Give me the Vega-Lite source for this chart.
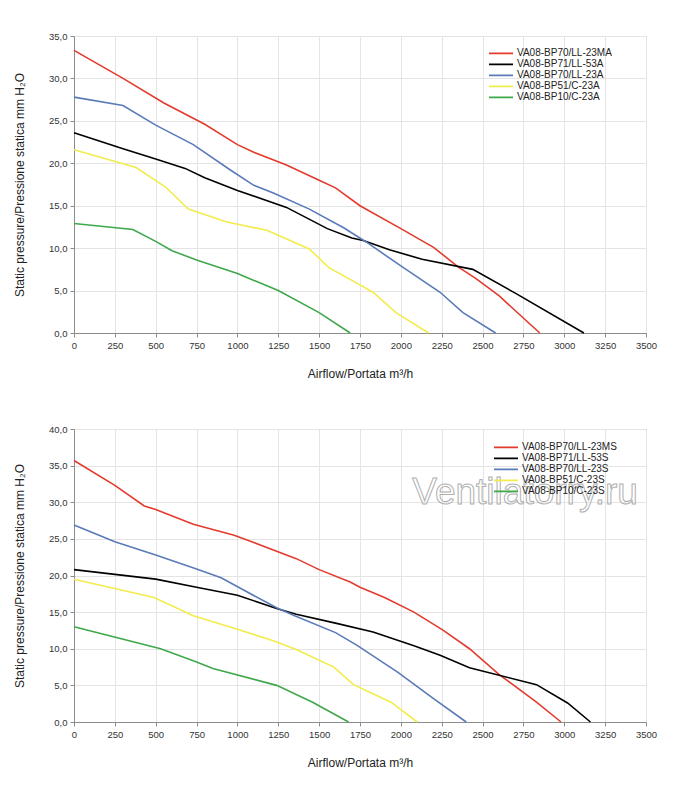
{
  "$schema": "https://vega.github.io/schema/vega-lite/v6.json",
  "padding": {"top": 30, "left": 13, "right": 5, "bottom": 5},
  "background": "white",
  "datasets": {
    "seriesA": [
      {"model": "VA08-BP70/LL-23MA", "flow": 0, "pressure": 33.3},
      {"model": "VA08-BP70/LL-23MA", "flow": 300, "pressure": 30.0},
      {"model": "VA08-BP70/LL-23MA", "flow": 550, "pressure": 27.1},
      {"model": "VA08-BP70/LL-23MA", "flow": 800, "pressure": 24.6},
      {"model": "VA08-BP70/LL-23MA", "flow": 1000, "pressure": 22.2},
      {"model": "VA08-BP70/LL-23MA", "flow": 1100, "pressure": 21.3},
      {"model": "VA08-BP70/LL-23MA", "flow": 1300, "pressure": 19.8},
      {"model": "VA08-BP70/LL-23MA", "flow": 1500, "pressure": 18.0},
      {"model": "VA08-BP70/LL-23MA", "flow": 1600, "pressure": 17.1},
      {"model": "VA08-BP70/LL-23MA", "flow": 1750, "pressure": 15.0},
      {"model": "VA08-BP70/LL-23MA", "flow": 2000, "pressure": 12.3},
      {"model": "VA08-BP70/LL-23MA", "flow": 2200, "pressure": 10.1},
      {"model": "VA08-BP70/LL-23MA", "flow": 2350, "pressure": 7.8},
      {"model": "VA08-BP70/LL-23MA", "flow": 2460, "pressure": 6.4},
      {"model": "VA08-BP70/LL-23MA", "flow": 2600, "pressure": 4.4},
      {"model": "VA08-BP70/LL-23MA", "flow": 2850, "pressure": 0},
      {"model": "VA08-BP71/LL-53A", "flow": 0, "pressure": 23.6},
      {"model": "VA08-BP71/LL-53A", "flow": 300, "pressure": 21.7},
      {"model": "VA08-BP71/LL-53A", "flow": 500, "pressure": 20.5},
      {"model": "VA08-BP71/LL-53A", "flow": 680, "pressure": 19.4},
      {"model": "VA08-BP71/LL-53A", "flow": 800, "pressure": 18.3},
      {"model": "VA08-BP71/LL-53A", "flow": 1000, "pressure": 16.8},
      {"model": "VA08-BP71/LL-53A", "flow": 1300, "pressure": 14.8},
      {"model": "VA08-BP71/LL-53A", "flow": 1550, "pressure": 12.3},
      {"model": "VA08-BP71/LL-53A", "flow": 1700, "pressure": 11.2},
      {"model": "VA08-BP71/LL-53A", "flow": 1770, "pressure": 10.9},
      {"model": "VA08-BP71/LL-53A", "flow": 1930, "pressure": 9.8},
      {"model": "VA08-BP71/LL-53A", "flow": 2130, "pressure": 8.7},
      {"model": "VA08-BP71/LL-53A", "flow": 2440, "pressure": 7.5},
      {"model": "VA08-BP71/LL-53A", "flow": 2700, "pressure": 4.7},
      {"model": "VA08-BP71/LL-53A", "flow": 3120, "pressure": 0},
      {"model": "VA08-BP70/LL-23A", "flow": 0, "pressure": 27.8},
      {"model": "VA08-BP70/LL-23A", "flow": 300, "pressure": 26.8},
      {"model": "VA08-BP70/LL-23A", "flow": 500, "pressure": 24.5},
      {"model": "VA08-BP70/LL-23A", "flow": 730, "pressure": 22.2},
      {"model": "VA08-BP70/LL-23A", "flow": 950, "pressure": 19.3},
      {"model": "VA08-BP70/LL-23A", "flow": 1100, "pressure": 17.4},
      {"model": "VA08-BP70/LL-23A", "flow": 1220, "pressure": 16.5},
      {"model": "VA08-BP70/LL-23A", "flow": 1440, "pressure": 14.6},
      {"model": "VA08-BP70/LL-23A", "flow": 1650, "pressure": 12.4},
      {"model": "VA08-BP70/LL-23A", "flow": 1790, "pressure": 10.7},
      {"model": "VA08-BP70/LL-23A", "flow": 2000, "pressure": 7.9},
      {"model": "VA08-BP70/LL-23A", "flow": 2240, "pressure": 4.8},
      {"model": "VA08-BP70/LL-23A", "flow": 2380, "pressure": 2.4},
      {"model": "VA08-BP70/LL-23A", "flow": 2580, "pressure": 0},
      {"model": "VA08-BP51/C-23A", "flow": 0, "pressure": 21.6},
      {"model": "VA08-BP51/C-23A", "flow": 380, "pressure": 19.5},
      {"model": "VA08-BP51/C-23A", "flow": 560, "pressure": 17.2},
      {"model": "VA08-BP51/C-23A", "flow": 700, "pressure": 14.6},
      {"model": "VA08-BP51/C-23A", "flow": 930, "pressure": 13.1},
      {"model": "VA08-BP51/C-23A", "flow": 1180, "pressure": 12.1},
      {"model": "VA08-BP51/C-23A", "flow": 1440, "pressure": 9.9},
      {"model": "VA08-BP51/C-23A", "flow": 1560, "pressure": 7.7},
      {"model": "VA08-BP51/C-23A", "flow": 1700, "pressure": 6.2},
      {"model": "VA08-BP51/C-23A", "flow": 1830, "pressure": 4.8},
      {"model": "VA08-BP51/C-23A", "flow": 1970, "pressure": 2.4},
      {"model": "VA08-BP51/C-23A", "flow": 2170, "pressure": 0},
      {"model": "VA08-BP10/C-23A", "flow": 0, "pressure": 12.9},
      {"model": "VA08-BP10/C-23A", "flow": 360, "pressure": 12.2},
      {"model": "VA08-BP10/C-23A", "flow": 500, "pressure": 10.8},
      {"model": "VA08-BP10/C-23A", "flow": 600, "pressure": 9.7},
      {"model": "VA08-BP10/C-23A", "flow": 750, "pressure": 8.6},
      {"model": "VA08-BP10/C-23A", "flow": 1000, "pressure": 7.0},
      {"model": "VA08-BP10/C-23A", "flow": 1250, "pressure": 5.0},
      {"model": "VA08-BP10/C-23A", "flow": 1500, "pressure": 2.4},
      {"model": "VA08-BP10/C-23A", "flow": 1690, "pressure": 0}
    ],
    "seriesS": [
      {"model": "VA08-BP70/LL-23MS", "flow": 0, "pressure": 35.7},
      {"model": "VA08-BP70/LL-23MS", "flow": 250, "pressure": 32.3},
      {"model": "VA08-BP70/LL-23MS", "flow": 430, "pressure": 29.5},
      {"model": "VA08-BP70/LL-23MS", "flow": 500, "pressure": 29.0},
      {"model": "VA08-BP70/LL-23MS", "flow": 730, "pressure": 27.0},
      {"model": "VA08-BP70/LL-23MS", "flow": 980, "pressure": 25.5},
      {"model": "VA08-BP70/LL-23MS", "flow": 1100, "pressure": 24.5},
      {"model": "VA08-BP70/LL-23MS", "flow": 1360, "pressure": 22.3},
      {"model": "VA08-BP70/LL-23MS", "flow": 1500, "pressure": 20.8},
      {"model": "VA08-BP70/LL-23MS", "flow": 1690, "pressure": 19.1},
      {"model": "VA08-BP70/LL-23MS", "flow": 1750, "pressure": 18.4},
      {"model": "VA08-BP70/LL-23MS", "flow": 1900, "pressure": 17.0},
      {"model": "VA08-BP70/LL-23MS", "flow": 2080, "pressure": 15.0},
      {"model": "VA08-BP70/LL-23MS", "flow": 2260, "pressure": 12.5},
      {"model": "VA08-BP70/LL-23MS", "flow": 2420, "pressure": 10.0},
      {"model": "VA08-BP70/LL-23MS", "flow": 2600, "pressure": 6.5},
      {"model": "VA08-BP70/LL-23MS", "flow": 2830, "pressure": 2.7},
      {"model": "VA08-BP70/LL-23MS", "flow": 2980, "pressure": 0},
      {"model": "VA08-BP71/LL-53S", "flow": 0, "pressure": 20.8},
      {"model": "VA08-BP71/LL-53S", "flow": 500, "pressure": 19.5},
      {"model": "VA08-BP71/LL-53S", "flow": 750, "pressure": 18.4},
      {"model": "VA08-BP71/LL-53S", "flow": 1000, "pressure": 17.3},
      {"model": "VA08-BP71/LL-53S", "flow": 1240, "pressure": 15.5},
      {"model": "VA08-BP71/LL-53S", "flow": 1360, "pressure": 14.7},
      {"model": "VA08-BP71/LL-53S", "flow": 1600, "pressure": 13.5},
      {"model": "VA08-BP71/LL-53S", "flow": 1830, "pressure": 12.3},
      {"model": "VA08-BP71/LL-53S", "flow": 2080, "pressure": 10.4},
      {"model": "VA08-BP71/LL-53S", "flow": 2240, "pressure": 9.1},
      {"model": "VA08-BP71/LL-53S", "flow": 2420, "pressure": 7.4},
      {"model": "VA08-BP71/LL-53S", "flow": 2830, "pressure": 5.1},
      {"model": "VA08-BP71/LL-53S", "flow": 3020, "pressure": 2.6},
      {"model": "VA08-BP71/LL-53S", "flow": 3160, "pressure": 0},
      {"model": "VA08-BP70/LL-23S", "flow": 0, "pressure": 26.9},
      {"model": "VA08-BP70/LL-23S", "flow": 250, "pressure": 24.6},
      {"model": "VA08-BP70/LL-23S", "flow": 500, "pressure": 22.8},
      {"model": "VA08-BP70/LL-23S", "flow": 750, "pressure": 20.9},
      {"model": "VA08-BP70/LL-23S", "flow": 900, "pressure": 19.7},
      {"model": "VA08-BP70/LL-23S", "flow": 1080, "pressure": 17.5},
      {"model": "VA08-BP70/LL-23S", "flow": 1240, "pressure": 15.6},
      {"model": "VA08-BP70/LL-23S", "flow": 1350, "pressure": 14.5},
      {"model": "VA08-BP70/LL-23S", "flow": 1600, "pressure": 12.2},
      {"model": "VA08-BP70/LL-23S", "flow": 1730, "pressure": 10.5},
      {"model": "VA08-BP70/LL-23S", "flow": 1980, "pressure": 6.8},
      {"model": "VA08-BP70/LL-23S", "flow": 2200, "pressure": 3.2},
      {"model": "VA08-BP70/LL-23S", "flow": 2400, "pressure": 0},
      {"model": "VA08-BP51/C-23S", "flow": 0, "pressure": 19.5},
      {"model": "VA08-BP51/C-23S", "flow": 490, "pressure": 17.0},
      {"model": "VA08-BP51/C-23S", "flow": 730, "pressure": 14.5},
      {"model": "VA08-BP51/C-23S", "flow": 980, "pressure": 12.8},
      {"model": "VA08-BP51/C-23S", "flow": 1220, "pressure": 11.1},
      {"model": "VA08-BP51/C-23S", "flow": 1360, "pressure": 9.9},
      {"model": "VA08-BP51/C-23S", "flow": 1590, "pressure": 7.5},
      {"model": "VA08-BP51/C-23S", "flow": 1710, "pressure": 5.1},
      {"model": "VA08-BP51/C-23S", "flow": 1940, "pressure": 2.7},
      {"model": "VA08-BP51/C-23S", "flow": 2100, "pressure": 0},
      {"model": "VA08-BP10/C-23S", "flow": 0, "pressure": 13.0},
      {"model": "VA08-BP10/C-23S", "flow": 530, "pressure": 10.0},
      {"model": "VA08-BP10/C-23S", "flow": 750, "pressure": 8.2},
      {"model": "VA08-BP10/C-23S", "flow": 850, "pressure": 7.3},
      {"model": "VA08-BP10/C-23S", "flow": 1240, "pressure": 5.0},
      {"model": "VA08-BP10/C-23S", "flow": 1460, "pressure": 2.7},
      {"model": "VA08-BP10/C-23S", "flow": 1680, "pressure": 0}
    ]
  },
  "vconcat": [
    {
      "width": 572,
      "height": 297,
      "data": {"name": "seriesA"},
      "mark": {"type": "line", "strokeWidth": 1.6},
      "encoding": {
        "x": {
          "field": "flow",
          "type": "quantitative",
          "title": "Airflow/Portata m³/h",
          "scale": {"domain": [0, 3500], "nice": false},
          "axis": {"values": [0, 250, 500, 750, 1000, 1250, 1500, 1750, 2000, 2250, 2500, 2750, 3000, 3250, 3500]}
        },
        "y": {
          "field": "pressure",
          "type": "quantitative",
          "title": "Static pressure/Pressione statica mm H₂O",
          "scale": {"domain": [0, 35], "nice": false},
          "axis": {"values": [0, 5, 10, 15, 20, 25, 30, 35]}
        },
        "color": {
          "field": "model",
          "type": "nominal",
          "scale": {
            "domain": ["VA08-BP70/LL-23MA", "VA08-BP71/LL-53A", "VA08-BP70/LL-23A", "VA08-BP51/C-23A", "VA08-BP10/C-23A"],
            "range": ["#e23b2e", "#000000", "#5a7ab8", "#f2ec4c", "#3fa84a"]
          },
          "legend": {"orient": "none", "legendX": 414, "legendY": 12}
        }
      }
    },
    {
      "width": 572,
      "height": 293,
      "layer": [
        {
          "data": {"name": "seriesS"},
          "mark": {"type": "line", "strokeWidth": 1.6},
          "encoding": {
            "x": {
              "field": "flow",
              "type": "quantitative",
              "title": "Airflow/Portata m³/h",
              "scale": {"domain": [0, 3500], "nice": false},
              "axis": {"values": [0, 250, 500, 750, 1000, 1250, 1500, 1750, 2000, 2250, 2500, 2750, 3000, 3250, 3500]}
            },
            "y": {
              "field": "pressure",
              "type": "quantitative",
              "title": "Static pressure/Pressione statica mm H₂O",
              "scale": {"domain": [0, 40], "nice": false},
              "axis": {"values": [0, 5, 10, 15, 20, 25, 30, 35, 40]}
            },
            "color": {
              "field": "model",
              "type": "nominal",
              "scale": {
                "domain": ["VA08-BP70/LL-23MS", "VA08-BP71/LL-53S", "VA08-BP70/LL-23S", "VA08-BP51/C-23S", "VA08-BP10/C-23S"],
                "range": ["#e23b2e", "#000000", "#5a7ab8", "#f2ec4c", "#3fa84a"]
              },
              "legend": {"orient": "none", "legendX": 419, "legendY": 13}
            }
          }
        },
        {
          "data": {"values": [{"site": "Ventilatorry.ru"}]},
          "mark": {
            "type": "text",
            "font": "Liberation Sans",
            "fontSize": 37,
            "fill": "#ffffff",
            "fillOpacity": 0.3,
            "stroke": "#b0b0b0",
            "strokeWidth": 1
          },
          "encoding": {
            "text": {"field": "site"},
            "x": {
              "datum": 2760,
              "type": "quantitative",
              "title": "Airflow/Portata m³/h",
              "axis": {"values": [0, 250, 500, 750, 1000, 1250, 1500, 1750, 2000, 2250, 2500, 2750, 3000, 3250, 3500]}
            },
            "y": {
              "datum": 31.2,
              "type": "quantitative",
              "title": "Static pressure/Pressione statica mm H₂O",
              "axis": {"values": [0, 5, 10, 15, 20, 25, 30, 35, 40]}
            }
          }
        }
      ]
    }
  ],
  "spacing": 43,
  "resolve": {"scale": {"color": "independent"}, "legend": {"color": "independent"}},
  "config": {
    "font": "Liberation Sans",
    "view": {"stroke": "#8c8c8c", "strokeWidth": 1},
    "axis": {
      "labelFont": "Liberation Sans",
      "labelFontSize": 9.5,
      "labelColor": "#333333",
      "titleFont": "Liberation Sans",
      "titleFontSize": 12,
      "titleFontWeight": "normal",
      "titleColor": "#222222",
      "gridColor": "#e4e4e4",
      "domainColor": "#8c8c8c",
      "tickColor": "#8c8c8c",
      "tickSize": 4
    },
    "axisX": {"format": "d", "labelPadding": 3, "titlePadding": 19, "labelFlush": false},
    "axisY": {
      "labelExpr": "replace(format(datum.value, '.1f'), '.', ',')",
      "labelPadding": 3,
      "titlePadding": 22
    },
    "legend": {
      "title": null,
      "symbolType": "stroke",
      "symbolSize": 576,
      "symbolStrokeWidth": 1.6,
      "labelFont": "Liberation Sans",
      "labelFontSize": 10,
      "labelColor": "#222222",
      "clipHeight": 10.7,
      "rowPadding": 0,
      "labelOffset": 3
    }
  }
}
